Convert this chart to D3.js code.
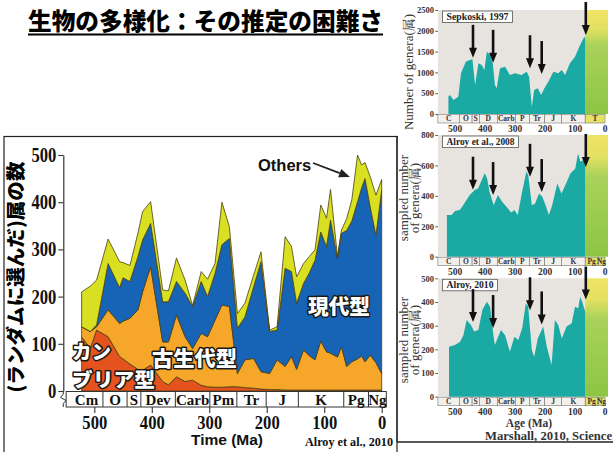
<!DOCTYPE html>
<html lang="ja">
<head>
<meta charset="utf-8">
<title>生物の多様化：その推定の困難さ</title>
<script src="https://cdn.jsdelivr.net/npm/d3@7/dist/d3.min.js"></script>
<style>
  html, body { margin: 0; padding: 0; background: #fff; }
  svg { display: block; }
</style>
</head>
<body>
<svg id="fig" width="613" height="452"></svg>
<script>
// ---------- main chart: sampled genera by evolutionary fauna (Alroy et al., 2010) ----------
const ages           = [522,507,496,476,456,450,438,424,416,402,381,371,357,342,329,314,303,290,278,265,251,238,223,210,195,182,168,157,148,136,126,116,106,96,89,77,70,61,52,42,35,29,20,10,0];
const cambrianFauna  = [115,90,129,115,73,68,57,46,44,55,20,13,30,20,23,12,9,8,8,9,9,7,6,4,3,3,2,2,2,2,2,2,2,2,2,2,2,2,2,2,2,2,2,2,2];
const paleozoicFauna = [21,36,7,57,70,80,97,126,166,208,84,91,131,95,67,110,106,142,174,170,28,59,63,37,34,63,50,71,44,85,73,64,104,81,78,70,92,50,60,66,72,60,74,58,35];
const modernFauna    = [0,0,4,98,76,92,78,113,110,92,85,85,71,92,89,110,85,99,128,144,96,91,151,233,89,63,208,180,140,141,175,211,231,223,282,209,240,288,298,333,356,388,314,270,389];
const otherGenera    = [74,96,95,52,55,32,34,50,60,46,25,23,50,28,2,21,37,21,90,25,31,29,25,21,3,7,67,53,56,42,35,22,57,60,65,4,7,25,45,99,49,34,64,85,22];

const faunaKeys   = ['cambrian', 'paleozoic', 'modern', 'others'];
const faunaColors = ['#e4521e', '#f6a72a', '#1764b6', '#d8e021'];

const yTicks = [0, 100, 200, 300, 400, 500];
const xTicks = [500, 400, 300, 200, 100, 0];

const periodNames = ['Cm', 'O', 'S', 'Dev', 'Carb', 'Pm', 'Tr', 'J', 'K', 'Pg', 'Ng'];
const periodEdges = [549, 485, 443, 419, 359, 299, 252, 201, 145, 66, 23, -8];

// ---------- side panels: genus richness curves (Marshall, 2010) ----------
const sepkoskiAge    = [522,517,505,489,480,464,450,442,433,422,411,402,394,383,374,367,361,350,333,317,300,278,261,253,244,236,224,213,202,189,172,156,144,133,117,100,83,69,66];
const sepkoskiGenera = [420,456,336,416,977,1257,1298,1314,697,1217,1177,1057,1498,1418,1217,697,617,1097,1137,937,977,937,1017,897,176,577,617,456,617,777,1017,977,1057,937,1217,1378,1658,1858,1818];
const alroy2008Age    = [527,511,500,484,473,451,434,423,401,393,385,371,357,343,324,313,302,291,275,262,256,244,233,220,209,198,187,176,159,145,132,115,99,90,82,71,66];
const alroy2008Genera = [274,274,300,307,339,405,438,449,548,515,427,339,405,361,318,291,307,274,438,560,537,339,350,416,394,339,274,339,482,416,471,548,580,679,624,635,600];
const alroy2010Age    = [520,500,483,472,461,447,436,422,409,394,383,372,367,347,333,317,302,289,276,264,256,244,236,224,206,194,178,167,156,144,128,111,100,89,83,76,66];
const alroy2010Genera = [211,218,232,260,324,303,275,282,366,401,380,260,218,282,260,190,253,239,289,394,380,197,169,246,296,211,134,324,303,246,296,310,380,373,422,401,359];

const extinctionAges     = [440, 373, 250, 211, 64];
const sepkoskiArrowTips  = [1350, 1230, 1100, 960, 1900];
const alroy2008ArrowTips = [440, 405, 525, 425, 590];
const alroy2010ArrowTips = [315, 290, 365, 305, 410];

const sepkoskiTicks  = [0, 500, 1000, 1500, 2000, 2500];
const alroy2008Ticks = [0, 200, 400, 600, 800];
const alroy2010Ticks = [0, 100, 200, 300, 400, 500];

const smallPeriodsT    = ['C', 'O', 'S', 'D', 'Carb', 'P', 'Tr', 'J', 'K', 'T'];
const smallEdgesT      = [557, 485, 443, 419, 359, 299, 252, 201, 145, 66, 0];
const smallPeriodsPgNg = ['C', 'O', 'S', 'D', 'Carb', 'P', 'Tr', 'J', 'K', 'Pg', 'Ng'];
const smallEdgesPgNg   = [557, 485, 443, 419, 359, 299, 252, 201, 145, 66, 23, 0];

const jp    = "'Noto Sans CJK JP', sans-serif";
const serif = "'Liberation Serif', 'Noto Serif CJK JP', 'Noto Sans CJK JP', serif";
const sans  = "'Liberation Sans', Arial, sans-serif";

const svg = d3.select('#fig');
svg.append('rect').attr('width', 613).attr('height', 452).attr('fill', '#fff');

const defs = svg.append('defs');
const grad = defs.append('linearGradient').attr('id', 'cenozoic')
  .attr('x1', 0).attr('y1', 0).attr('x2', 0).attr('y2', 1);
grad.append('stop').attr('offset', '0%').attr('stop-color', '#f0e466');
grad.append('stop').attr('offset', '18%').attr('stop-color', '#e3e062');
grad.append('stop').attr('offset', '34%').attr('stop-color', '#a9d25a');
grad.append('stop').attr('offset', '100%').attr('stop-color', '#8dc543');

// ---------- title ----------
svg.append('text')
  .attr('x', 28).attr('y', 30)
  .attr('font-family', jp).attr('font-weight', 900).attr('font-size', 23.5)
  .attr('textLength', 355).attr('lengthAdjust', 'spacingAndGlyphs')
  .attr('fill', '#000')
  .text('生物の多様化：その推定の困難さ');
svg.append('line').attr('x1', 28).attr('x2', 383).attr('y1', 34.5).attr('y2', 34.5)
  .attr('stroke', '#000').attr('stroke-width', 2);

// ---------- main chart frame ----------
svg.append('rect').attr('x', 4).attr('y', 136.5).attr('width', 393).attr('height', 330)
  .attr('fill', 'none').attr('stroke', '#222').attr('stroke-width', 1.2);
svg.append('line').attr('x1', 397).attr('x2', 408).attr('y1', 136.5).attr('y2', 136.5)
  .attr('stroke', '#222').attr('stroke-width', 1.2);
svg.append('line').attr('x1', 397).attr('x2', 613).attr('y1', 442).attr('y2', 442)
  .attr('stroke', '#222').attr('stroke-width', 1.3);

const x = d3.scaleLinear().domain([500, 0]).range([94.3, 381.7]);
const y = d3.scaleLinear().domain([0, 500]).range([391, 155]);

const rows = ages.map((t, i) => ({
  t,
  cambrian: cambrianFauna[i],
  paleozoic: paleozoicFauna[i],
  modern: modernFauna[i],
  others: otherGenera[i]
}));
const layers = d3.stack().keys(faunaKeys)(rows);
const area = d3.area()
  .x(d => x(d.data.t))
  .y0(d => y(d[0]))
  .y1(d => y(d[1]));

const main = svg.append('g');
main.selectAll('path.layer').data(layers).join('path')
  .attr('class', 'layer')
  .attr('d', area)
  .attr('fill', (d, i) => faunaColors[i])
  .attr('stroke', '#4a3f12').attr('stroke-width', 0.8).attr('stroke-linejoin', 'round');

// y axis
const yAxis = main.append('g').attr('transform', 'translate(63.3,0)')
  .call(d3.axisLeft(y).tickValues(yTicks).tickSize(5).tickSizeOuter(0).tickPadding(2));
yAxis.select('.domain').attr('stroke', '#333').attr('stroke-width', 1.2);
yAxis.selectAll('line').attr('stroke', '#333').attr('stroke-width', 1.1);
yAxis.selectAll('text')
  .attr('font-family', serif).attr('font-weight', 'bold').attr('font-size', 20).attr('fill', '#111')
  .attr('textLength', d => String(d).length * 8.3).attr('lengthAdjust', 'spacingAndGlyphs');

// y axis title
svg.append('text')
  .attr('transform', 'translate(23,277) rotate(-90)')
  .attr('text-anchor', 'middle')
  .attr('font-family', jp).attr('font-weight', 900).attr('font-size', 19)
  .attr('textLength', 231).attr('lengthAdjust', 'spacingAndGlyphs')
  .attr('fill', '#000')
  .text('(ランダムに選んだ)属の数');

// geological period strip
const strip = main.append('g');
const stripTop = 391.5, stripBot = 407;
strip.append('rect')
  .attr('x', x(periodEdges[0])).attr('y', stripTop)
  .attr('width', x(periodEdges[periodEdges.length - 1]) - x(periodEdges[0]))
  .attr('height', stripBot - stripTop)
  .attr('fill', '#fff').attr('stroke', '#333').attr('stroke-width', 1);
strip.selectAll('line.edge').data(periodEdges.slice(1, -1)).join('line')
  .attr('class', 'edge')
  .attr('x1', d => x(d)).attr('x2', d => x(d))
  .attr('y1', stripTop).attr('y2', stripBot)
  .attr('stroke', '#333').attr('stroke-width', 1);
strip.selectAll('text').data(periodNames).join('text')
  .attr('x', (d, i) => (x(periodEdges[i]) + x(periodEdges[i + 1])) / 2 + (i === 0 ? 2 : 0))
  .attr('y', 404.5)
  .attr('text-anchor', 'middle')
  .attr('font-family', serif).attr('font-weight', 'bold').attr('font-size', 15).attr('fill', '#111')
  .text(d => d);
// axis break mark
strip.append('path')
  .attr('d', 'M63.3,391 V394 L60.5,397.5 L66,400.5 L63.3,403.5 V407')
  .attr('fill', 'none').attr('stroke', '#333').attr('stroke-width', 1);

// x axis
const xAxis = main.append('g').attr('transform', `translate(0,${stripBot})`)
  .call(d3.axisBottom(x).tickValues(xTicks).tickSize(6).tickPadding(2));
xAxis.select('.domain').remove();
xAxis.selectAll('line').attr('stroke', '#333').attr('stroke-width', 1.1);
xAxis.selectAll('text')
  .attr('font-family', serif).attr('font-weight', 'bold').attr('font-size', 19.5).attr('fill', '#111')
  .attr('textLength', d => String(d).length * 8.3).attr('lengthAdjust', 'spacingAndGlyphs');

svg.append('text').attr('x', 227).attr('y', 445)
  .attr('text-anchor', 'middle')
  .attr('font-family', sans).attr('font-weight', 'bold').attr('font-size', 15.5).attr('fill', '#111')
  .text('Time (Ma)');
svg.append('text').attr('x', 393).attr('y', 446)
  .attr('text-anchor', 'end')
  .attr('font-family', serif).attr('font-weight', 'bold').attr('font-size', 12.5).attr('fill', '#111')
  .attr('textLength', 88).attr('lengthAdjust', 'spacingAndGlyphs')
  .text('Alroy et al., 2010');

// "Others" call-out
svg.append('text').attr('x', 258).attr('y', 170.5)
  .attr('font-family', sans).attr('font-weight', 'bold').attr('font-size', 16.5).attr('fill', '#111')
  .text('Others');
{
  const x1 = 313, y1 = 163, x2 = 350, y2 = 177;
  const ang = Math.atan2(y2 - y1, x2 - x1);
  const hl = 11, hw = 4.5;
  const bx = x2 - hl * Math.cos(ang), by = y2 - hl * Math.sin(ang);
  svg.append('line').attr('x1', x1).attr('y1', y1).attr('x2', bx).attr('y2', by)
    .attr('stroke', '#222').attr('stroke-width', 1.8);
  svg.append('path')
    .attr('d', `M${x2},${y2} L${bx + hw * Math.sin(ang)},${by - hw * Math.cos(ang)} L${bx - hw * Math.sin(ang)},${by + hw * Math.cos(ang)} Z`)
    .attr('fill', '#222');
}

// fauna labels (white with a dark outline)
function outlined(lines, size) {
  const t = svg.append('text')
    .attr('font-family', jp).attr('font-weight', 900).attr('font-size', size)
    .attr('fill', '#fff').attr('stroke', '#1a1a1a').attr('stroke-width', 3)
    .attr('stroke-linejoin', 'round').attr('paint-order', 'stroke');
  lines.forEach(l => {
    t.append('tspan').attr('x', l.x).attr('y', l.y)
      .attr('textLength', l.len).attr('lengthAdjust', 'spacingAndGlyphs')
      .text(l.txt);
  });
}
outlined([{ txt: '現代型', x: 308, y: 314, len: 62 }], 21);
outlined([{ txt: '古生代型', x: 152, y: 366, len: 85 }], 21);
outlined([{ txt: 'カン', x: 72, y: 359, len: 39 }, { txt: 'ブリア型', x: 72, y: 386.5, len: 83 }], 19.5);

// ---------- side panels ----------
svg.append('rect').attr('x', 398).attr('y', 0).attr('width', 215).attr('height', 441)
  .attr('fill', '#fff');
svg.append('line').attr('x1', 397).attr('x2', 397).attr('y1', 136.5).attr('y2', 442)
  .attr('stroke', '#222').attr('stroke-width', 1.2);

const xs = d3.scaleLinear().domain([500, 0]).range([455, 605]);

const panels = [
  { age: sepkoskiAge, genera: sepkoskiGenera, yMax: 2500, ticks: sepkoskiTicks, top: 10, bottom: 114,
    label: 'Sepkoski, 1997', labelW: 70, arrows: sepkoskiArrowTips,
    names: smallPeriodsT, edges: smallEdgesT, ytitle: ['Number of genera(属)'], ymid: 72 },
  { age: alroy2008Age, genera: alroy2008Genera, yMax: 800, ticks: alroy2008Ticks, top: 135, bottom: 256.7,
    label: 'Alroy et al., 2008', labelW: 76, arrows: alroy2008ArrowTips,
    names: smallPeriodsPgNg, edges: smallEdgesPgNg, ytitle: ['sampled number', 'of genera(属)'], ymid: 198 },
  { age: alroy2010Age, genera: alroy2010Genera, yMax: 500, ticks: alroy2010Ticks, top: 278.3, bottom: 396.7,
    label: 'Alroy, 2010', labelW: 55, arrows: alroy2010ArrowTips,
    names: smallPeriodsPgNg, edges: smallEdgesPgNg, ytitle: ['sampled number', 'of genera(属)'], ymid: 340 }
];

panels.forEach(p => {
  const ys = d3.scaleLinear().domain([0, p.yMax]).range([p.bottom, p.top]);
  const g = svg.append('g');
  g.append('rect').attr('x', xs(557)).attr('y', p.top)
    .attr('width', xs(66) - xs(557)).attr('height', p.bottom - p.top).attr('fill', '#e7e3df');
  g.append('rect').attr('x', xs(66)).attr('y', p.top)
    .attr('width', xs(-10) - xs(66)).attr('height', p.bottom - p.top).attr('fill', 'url(#cenozoic)');
  const a = d3.area().x((d, i) => xs(p.age[i])).y0(p.bottom).y1(d => ys(d));
  g.append('path').datum(p.genera).attr('d', a).attr('fill', '#1aa9a3');

  // y axis
  const ya = g.append('g').attr('transform', `translate(${xs(557)},0)`)
    .call(d3.axisLeft(ys).tickValues(p.ticks).tickFormat(d3.format('d')).tickSize(2.5).tickPadding(1.5));
  ya.select('.domain').remove();
  ya.selectAll('line').attr('stroke', '#555');
  ya.selectAll('text').attr('font-family', serif).attr('font-weight', 'bold').attr('font-size', 8.5)
    .attr('fill', '#333');

  // label box
  g.append('rect').attr('x', 442.5).attr('y', p.top + 1).attr('width', p.labelW).attr('height', 11.5)
    .attr('fill', '#fff').attr('stroke', '#555').attr('stroke-width', 0.8);
  g.append('text').attr('x', 442.5 + p.labelW / 2).attr('y', p.top + 10)
    .attr('text-anchor', 'middle')
    .attr('font-family', serif).attr('font-weight', 'bold').attr('font-size', 10.5).attr('fill', '#222')
    .attr('textLength', p.labelW - 8).attr('lengthAdjust', 'spacingAndGlyphs')
    .text(p.label);

  // extinction arrows
  extinctionAges.forEach((t, i) => {
    const ax = xs(t), tipY = ys(p.arrows[i]);
    g.append('line').attr('x1', ax).attr('x2', ax).attr('y1', tipY - 33).attr('y2', tipY - 8)
      .attr('stroke', '#111').attr('stroke-width', 2.6);
    g.append('path').attr('d', `M${ax},${tipY} L${ax - 4},${tipY - 10} L${ax + 4},${tipY - 10} Z`)
      .attr('fill', '#111');
  });

  // period strip
  const sTop = p.bottom + 0.5, sBot = p.bottom + 9;
  g.selectAll('rect.cell').data(p.names).join('rect').attr('class', 'cell')
    .attr('x', (d, i) => xs(p.edges[i])).attr('y', sTop)
    .attr('width', (d, i) => xs(p.edges[i + 1]) - xs(p.edges[i])).attr('height', sBot - sTop)
    .attr('fill', (d, i) => p.edges[i] <= 66 ? '#e4e26a' : '#f3f0ec')
    .attr('stroke', '#777').attr('stroke-width', 0.6);
  g.selectAll('text.cell').data(p.names).join('text').attr('class', 'cell')
    .attr('x', (d, i) => (xs(p.edges[i]) + xs(p.edges[i + 1])) / 2)
    .attr('y', sBot - 1.6)
    .attr('text-anchor', 'middle')
    .attr('font-family', serif).attr('font-weight', 'bold').attr('font-size', 7.5).attr('fill', '#333')
    .text(d => d);

  // age labels under the strip
  g.selectAll('text.age').data(xTicks).join('text').attr('class', 'age')
    .attr('x', d => xs(d)).attr('y', sBot + 9)
    .attr('text-anchor', 'middle')
    .attr('font-family', serif).attr('font-weight', 'bold').attr('font-size', 9.5).attr('fill', '#333')
    .text(d => d);

  // y title
  p.ytitle.forEach((line, k) => {
    const n = p.ytitle.length;
    const bx = n === 1 ? 413 : 408 + k * 11;
    g.append('text')
      .attr('transform', `translate(${bx},${p.ymid}) rotate(-90)`)
      .attr('text-anchor', 'middle')
      .attr('font-family', serif).attr('font-size', 13).attr('fill', '#333')
      .text(line);
  });
});

svg.append('text').attr('x', 529).attr('y', 427.2)
  .attr('text-anchor', 'middle')
  .attr('font-family', serif).attr('font-weight', 'bold').attr('font-size', 11.5).attr('fill', '#333')
  .text('Age (Ma)');
svg.append('text').attr('x', 612).attr('y', 440)
  .attr('text-anchor', 'end')
  .attr('font-family', serif).attr('font-weight', 'bold').attr('font-size', 11.5).attr('fill', '#333')
  .attr('textLength', 127).attr('lengthAdjust', 'spacingAndGlyphs')
  .text('Marshall, 2010, Science');
</script>
</body>
</html>
